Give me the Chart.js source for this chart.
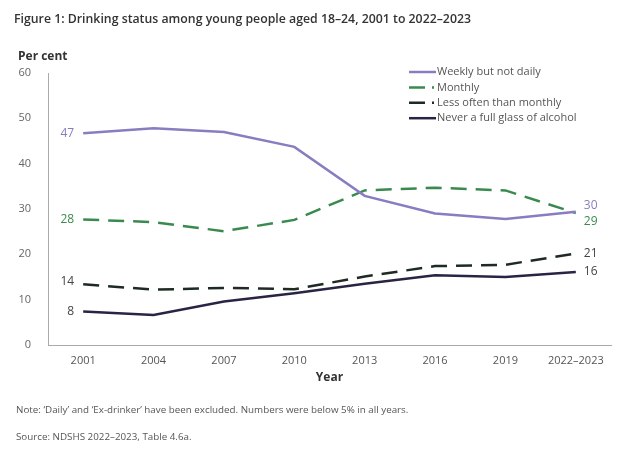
<!DOCTYPE html>
<html lang="en">
<head>
  <meta charset="UTF-8" />
  <title>Drinking status among young people</title>
  <style>
    body {
      margin: 0;
      width: 630px;
      height: 453px;
      background: #fff;
      font-family: "Open Sans", sans-serif;
      position: relative;
      overflow: hidden;
    }
    .title {
      position: absolute;
      left: 14px;
      top: 10px;
      font-size: 12.3px;
      font-weight: 600;
      color: #333;
    }
    .unit {
      position: absolute;
      left: 18px;
      top: 47px;
      font-size: 12px;
      font-weight: 700;
      color: #333;
    }
    .note {
      position: absolute;
      left: 16px;
      font-size: 9.8px;
      color: #555;
    }
    #wrap {
      position: absolute;
      left: 0;
      top: 0;
      width: 630px;
      height: 453px;
    }
  </style>
</head>
<body>
  <div id="wrap"><canvas id="chart"></canvas></div>
  <div class="title">Figure 1: Drinking status among young people aged 18–24, 2001 to 2022–2023</div>
  <div class="unit">Per cent</div>
  <div class="note" style="top:403px">Note: ‘Daily’ and ‘Ex-drinker’ have been excluded. Numbers were below 5% in all years.</div>
  <div class="note" style="top:430px">Source: NDSHS 2022–2023, Table 4.6a.</div>

  <script src="https://cdn.jsdelivr.net/npm/chart.js"></script>
  <script>
    const years = ["2001", "2004", "2007", "2010", "2013", "2016", "2019", "2022–2023"];
    const weekly = [46.7, 47.8, 47.0, 43.7, 32.9, 29.0, 27.8, 29.4];
    const monthly = [27.7, 27.1, 25.1, 27.6, 34.1, 34.7, 34.1, 29.1];
    const lessOften = [13.4, 12.2, 12.6, 12.3, 15.1, 17.4, 17.7, 20.2];
    const never = [7.4, 6.6, 9.6, 11.4, 13.5, 15.4, 15.0, 16.1];
    const yTicks = [0, 10, 20, 30, 40, 50, 60];

    // label text shown at first / last point of each series
    const startLabels = ["47", "28", "14", "8"];
    const endLabels = ["30", "29", "21", "16"];
    const startNudge = [0, 0, -3, 0];
    const endNudge = [-6, 8, 0, 0];

    const series = [
      { label: "Weekly but not daily", data: weekly, color: "#8a7cc0", dash: [] },
      { label: "Monthly", data: monthly, color: "#3a8a50", dash: [16, 9] },
      { label: "Less often than monthly", data: lessOften, color: "#1e2b23", dash: [16, 9] },
      { label: "Never a full glass of alcohol", data: never, color: "#2a2444", dash: [] }
    ];
    const labelColors = ["#8a7cc0", "#3a8a50", "#444", "#444"];

    const pointLabels = {
      id: "pointLabels",
      afterDatasetsDraw(chart) {
        const ctx = chart.ctx;
        const x = chart.scales.x, y = chart.scales.y;
        ctx.save();
        ctx.font = "12px 'Open Sans'";
        ctx.textBaseline = "middle";
        series.forEach((s, i) => {
          const n = s.data.length - 1;
          ctx.fillStyle = labelColors[i];
          ctx.textAlign = "right";
          ctx.fillText(startLabels[i], x.getPixelForValue(0) - 9, y.getPixelForValue(s.data[0]) + startNudge[i]);
          ctx.textAlign = "left";
          ctx.fillText(endLabels[i], x.getPixelForValue(n) + 8, y.getPixelForValue(s.data[n]) + endNudge[i]);
        });
        ctx.restore();
      }
    };

    const legendBox = {
      id: "legendBox",
      afterDraw(chart) {
        const ctx = chart.ctx;
        ctx.save();
        ctx.font = "11px 'Open Sans'";
        ctx.textBaseline = "middle";
        ctx.textAlign = "left";
        series.forEach((s, i) => {
          const ly = 72 + i * 15.4;
          ctx.strokeStyle = s.color;
          ctx.lineWidth = 2.5;
          ctx.setLineDash(s.dash.length ? [16, 7, 2, 50] : []);
          ctx.beginPath();
          ctx.moveTo(409, ly);
          ctx.lineTo(436, ly);
          ctx.stroke();
          ctx.setLineDash([]);
          ctx.fillStyle = "#555";
          ctx.fillText(s.label, 437, ly);
        });
        ctx.restore();
      }
    };

    new Chart(document.getElementById("chart"), {
      type: "line",
      data: {
        labels: years,
        datasets: series.map(s => ({
          label: s.label,
          data: s.data,
          borderColor: s.color,
          backgroundColor: s.color,
          borderDash: s.dash,
          borderWidth: 2.5,
          pointRadius: 0,
          tension: 0,
          fill: false
        }))
      },
      options: {
        responsive: true,
        maintainAspectRatio: false,
        animation: false,
        layout: { padding: { left: 0, top: 73, right: 19, bottom: 64 } },
        plugins: {
          legend: { display: false },
          tooltip: { enabled: false }
        },
        scales: {
          x: {
            offset: true,
            grid: { display: false, drawTicks: false },
            border: { color: "#aaa", width: 1 },
            ticks: { color: "#555", font: { family: "Open Sans", size: 11 }, padding: 9, maxRotation: 0 },
            title: { display: true, text: "Year", color: "#333", font: { family: "Open Sans", size: 12, weight: "bold" } },
            afterFit(scale) { scale.height = 44; }
          },
          y: {
            min: 0,
            max: 60,
            afterBuildTicks(scale) { scale.ticks = yTicks.map(v => ({ value: v })); },
            grid: { display: false, drawTicks: false },
            border: { color: "#aaa", width: 1 },
            ticks: { color: "#666", font: { family: "Open Sans", size: 11 }, padding: 17 },
            afterFit(scale) { scale.width = 48; }
          }
        }
      },
      plugins: [pointLabels, legendBox]
    });
  </script>
</body>
</html>
